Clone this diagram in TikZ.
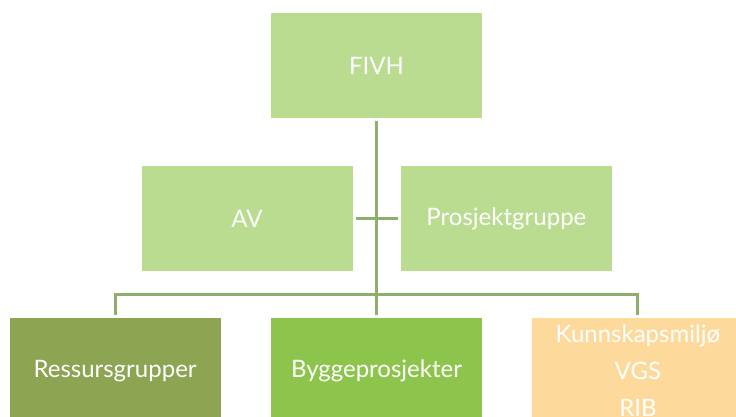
\documentclass[tikz,border=0pt]{standalone}
\usepackage{fontspec}
\setmainfont{Lato}
\usepackage{xcolor}
\usepackage{tikz}
\usetikzlibrary{positioning}

\definecolor{lightgreen}{HTML}{B9DC91}
\definecolor{olive}{HTML}{8DA452}
\definecolor{leaf}{HTML}{8DC54C}
\definecolor{peach}{HTML}{FDD99B}
\definecolor{linegreen}{HTML}{8FAD6B}

\begin{document}
\begin{tikzpicture}[
  x=1pt, y=-1pt,
  font=\fontsize{24}{37}\selectfont,
  node distance=48pt and 48pt,
  box/.style={minimum width=211pt,minimum height=105pt,inner sep=0pt,align=center,text=white},
  topbox/.style={box,fill=lightgreen},
  conn/.style={draw=linegreen,line width=3pt,shorten <=3pt,shorten >=3pt},
]
\clip (0,0) rectangle (736,416);
\fill[white] (0,0) rectangle (736,416);

\node[topbox] (fivh) at (376.5,65.5) {FIVH};
\node[topbox, below=48pt of fivh, xshift=-129.5pt] (av) {AV};
\node[topbox, right=48pt of av] (prosjekt) {Prosjektgruppe};

\node[box, fill=leaf, below=200pt of fivh] (bygge) {Byggeprosjekter};
\node[box, fill=olive, left=50pt of bygge] (ressurs) {Ressursgrupper};
\node[box, fill=peach, right=50pt of bygge] (kunnskap) {Kunnskapsmiljø\\VGS\\RIB};

\coordinate (bus) at (376,294);

% connectors
\draw[conn] (fivh) -- (bygge);
\draw[conn] (av) -- (prosjekt);
\draw[conn] (ressurs.north) |- (bus) -| (kunnskap.north);
\end{tikzpicture}
\end{document}
